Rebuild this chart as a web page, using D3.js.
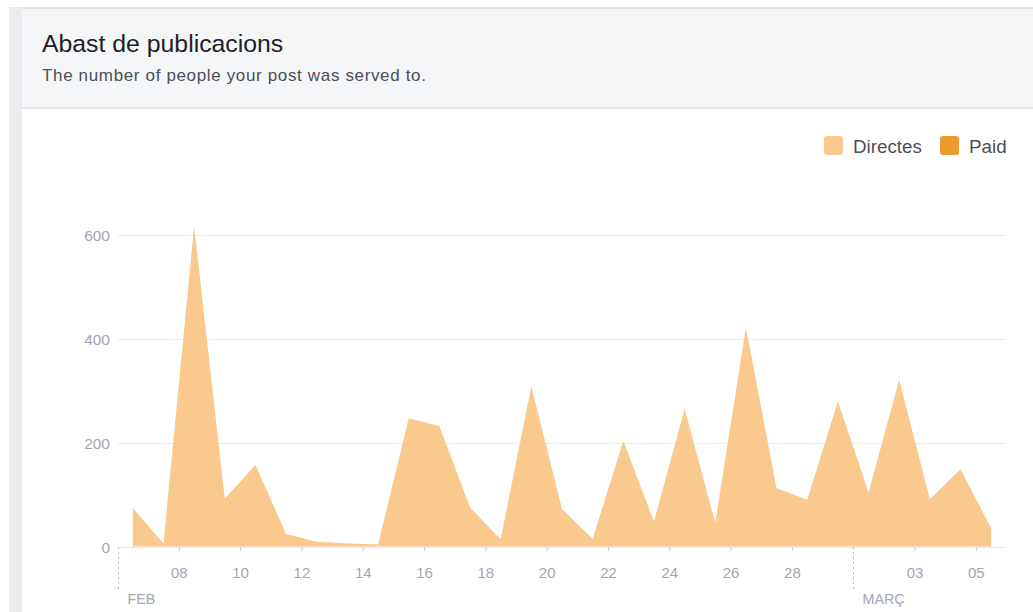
<!DOCTYPE html>
<html>
<head>
<meta charset="utf-8">
<script src="https://cdn.jsdelivr.net/npm/d3@7"></script>
<style>
  html, body { margin: 0; padding: 0; background: #fff; }
  body { width: 1033px; height: 612px; overflow: hidden; font-family: "Liberation Sans", Arial, Helvetica, sans-serif; }
</style>
</head>
<body>
<svg id="chart" width="1033" height="612"></svg>
<script>
// ---- Data ----
const title = "Abast de publicacions";
const subtitle = "The number of people your post was served to.";
const seriesNames = ["Directes", "Paid"];
const seriesColors = ["#f9c98d", "#ed9a2e"];
const days = ["2016-02-06","2016-02-07","2016-02-08","2016-02-09","2016-02-10","2016-02-11","2016-02-12",
  "2016-02-13","2016-02-14","2016-02-15","2016-02-16","2016-02-17","2016-02-18","2016-02-19","2016-02-20",
  "2016-02-21","2016-02-22","2016-02-23","2016-02-24","2016-02-25","2016-02-26","2016-02-27","2016-02-28",
  "2016-02-29","2016-03-01","2016-03-02","2016-03-03","2016-03-04","2016-03-05"];
const directes = [74, 6, 617, 92, 157, 24, 9, 6, 4, 247, 232, 75, 14, 308, 72, 15, 203, 48, 265, 46, 422, 112, 90, 280, 104, 321, 91, 149, 35];
const paid = [0,0,0,0,0,0,0,0,0,0,0,0,0,0,0,0,0,0,0,0,0,0,0,0,0,0,0,0,0];
const yTicks = [0, 200, 400, 600];
const xTickDays = ["2016-02-08","2016-02-10","2016-02-12","2016-02-14","2016-02-16","2016-02-18","2016-02-20",
  "2016-02-22","2016-02-24","2016-02-26","2016-02-28","2016-03-03","2016-03-05"];
const monthMarks = [{date: "2016-02-06", label: "FEB"}, {date: "2016-03-01", label: "MARÇ"}];
const domainStart = "2016-02-06", domainEnd = "2016-03-06";

// ---- Layout ----
const svg = d3.select("#chart");
const parse = d3.utcParse("%Y-%m-%d");
const noon = d => d3.utcHour.offset(parse(d), 12);

// page chrome
svg.append("rect").attr("x", 9).attr("y", 7).attr("width", 13).attr("height", 605).attr("fill", "#e9ebee");
svg.append("rect").attr("x", 22).attr("y", 8).attr("width", 1011).attr("height", 100).attr("fill", "#f5f6f7");
svg.append("line").attr("x1", 22).attr("x2", 1033).attr("y1", 8).attr("y2", 8).attr("stroke", "#e3e4e8").attr("stroke-width", 2);
svg.append("line").attr("x1", 22).attr("x2", 1033).attr("y1", 108).attr("y2", 108).attr("stroke", "#dddfe2").attr("stroke-width", 1.5);

svg.append("text").attr("x", 42).attr("y", 52).attr("font-size", 24.8).attr("fill", "#1d2129").text(title);
svg.append("text").attr("x", 42).attr("y", 80.5).attr("font-size", 17).attr("letter-spacing", 0.65)
  .attr("fill", "#4b4f56").text(subtitle);

// legend
const legendX = [824, 940];
seriesNames.forEach((n, i) => {
  svg.append("rect").attr("x", legendX[i]).attr("y", 136).attr("width", 19).attr("height", 19)
    .attr("rx", 3).attr("fill", seriesColors[i]);
  svg.append("text").attr("x", legendX[i] + 29).attr("y", 152.5).attr("font-size", 18.8)
    .attr("fill", "#4b4f56").text(n);
});

const x = d3.scaleUtc().domain([parse(domainStart), parse(domainEnd)]).range([117.5, 1006.5]);
const y = d3.scaleLinear().domain([0, 600]).range([546.5, 235]);

// gridlines
svg.append("g").selectAll("line").data(yTicks).join("line")
  .attr("x1", 118).attr("x2", 1006)
  .attr("y1", d => Math.round(y(d)) + 0.5).attr("y2", d => Math.round(y(d)) + 0.5)
  .attr("stroke", d => d === 0 ? "#e6e7ea" : "#ececee").attr("stroke-width", 1);

// y labels
svg.append("g").selectAll("text").data(yTicks).join("text")
  .attr("x", 110).attr("y", d => y(d) + 6).attr("text-anchor", "end")
  .attr("font-size", 15.5).attr("fill", "#a3a7b0").text(d => d);

// areas (stacked)
const data = days.map((d, i) => ({date: noon(d), Directes: directes[i], Paid: paid[i]}));
const stack = d3.stack().keys(seriesNames)(data);
const area = d3.area().x(d => x(d.data.date)).y0(d => y(d[0])).y1(d => y(d[1]));
svg.append("g").selectAll("path").data(stack).join("path")
  .attr("d", area).attr("fill", (d, i) => seriesColors[i]).attr("stroke", "none");

// x axis ticks
const xAxis = d3.axisBottom(x).tickValues(xTickDays.map(parse)).tickFormat(d3.utcFormat("%d")).tickSize(4).tickPadding(14);
const gx = svg.append("g").attr("transform", "translate(0,547)").call(xAxis);
gx.select(".domain").remove();
gx.selectAll(".tick line").attr("stroke", "#c9ccd2");
gx.selectAll(".tick text").attr("font-size", 15).attr("fill", "#a3a7b0")
  .attr("font-family", "Liberation Sans, Arial, sans-serif")
  .attr("dy", null).attr("y", 30.5);

// month markers
const mg = svg.append("g").selectAll("g").data(monthMarks).join("g")
  .attr("transform", d => `translate(${Math.round(x(parse(d.date))) + 0.5},0)`);
mg.append("line").attr("y1", 547).attr("y2", 590).attr("stroke", "#b5b9c0")
  .attr("stroke-width", 1).attr("stroke-dasharray", "2,3");
mg.append("text").attr("x", 9).attr("y", 603.5).attr("font-size", 14.3).attr("fill", "#a3a7b0")
  .text(d => d.label);
</script>
</body>
</html>
